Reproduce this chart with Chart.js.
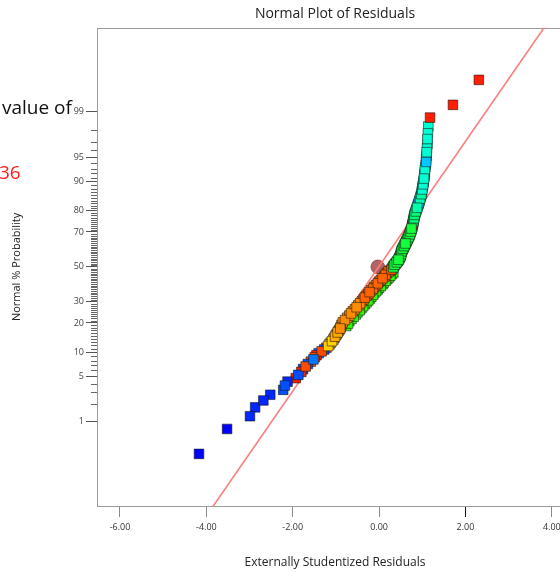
<!DOCTYPE html>
<html>
<head>
<meta charset="utf-8">
<script src="https://cdn.jsdelivr.net/npm/chart.js@4.4.1/dist/chart.umd.min.js"></script>
<style>
  html, body { margin: 0; padding: 0; background: #fff; overflow: hidden; }
  #wrap { position: relative; width: 560px; height: 573px; overflow: hidden; }
  #chart { position: absolute; left: 0; top: 0; }
  .note { position: absolute; font-family: 'Open Sans', sans-serif; white-space: nowrap; line-height: 1; }
</style>
</head>
<body>
<div id="wrap">
  <canvas id="chart" width="670" height="573"></canvas>
  <div class="note" style="left:2px;top:98px;font-size:19px;color:#111">value of</div>
  <div class="note" style="left:-1px;top:163px;font-size:19px;color:#ff1a1a">36</div>
</div>
<script>
// residuals, sorted by rank
const residuals = [
  -4.17,-3.52,-2.99,-2.87,-2.68,-2.52,-2.22,-2.18,-2.12,-1.93,
  -1.87,-1.80,-1.76,-1.70,-1.65,-1.58,-1.52,-1.49,-1.45,-1.40,
  -1.33,-1.27,-1.22,-1.18,-1.15,-1.12,-1.09,-1.06,-1.04,-1.02,
  -1.00,-0.98,-0.96,-0.94,-0.92,-0.90,-0.89,-0.76,-0.87,-0.72,
  -0.84,-0.69,-0.79,-0.64,-0.74,-0.59,-0.69,-0.54,-0.65,-0.50,
  -0.61,-0.45,-0.56,-0.41,-0.52,-0.37,-0.48,-0.33,-0.44,-0.29,
  -0.40,-0.25,-0.36,-0.21,-0.33,-0.18,-0.29,-0.14,-0.25,-0.11,
  -0.22,-0.07,-0.18,-0.03,-0.14,0.00,-0.11,0.04,-0.07,0.08,
  -0.03,0.11,0.00,0.15,0.04,0.19,0.08,0.23,0.12,0.26,
  0.15,0.30,0.18,0.33,0.22,0.26,0.28,0.30,0.31,0.33,
  0.33,0.35,0.36,0.38,0.39,0.41,0.42,0.44,0.45,0.46,
  0.47,0.48,0.49,0.50,0.50,0.51,0.51,0.52,0.52,0.53,
  0.54,0.55,0.56,0.57,0.58,0.59,0.60,0.61,0.62,0.63,
  0.64,0.65,0.66,0.67,0.68,0.69,0.70,0.71,0.72,0.72,
  0.73,0.74,0.75,0.75,0.76,0.77,0.77,0.78,0.78,0.79,
  0.79,0.80,0.80,0.81,0.81,0.82,0.82,0.83,0.84,0.85,
  0.86,0.87,0.88,0.89,0.90,0.91,0.92,0.93,0.94,0.95,
  0.96,0.97,0.98,0.99,0.99,1.00,1.00,1.01,1.02,1.03,
  1.03,1.04,1.05,1.05,1.06,1.06,1.07,1.08,1.09,1.09,
  1.10,1.10,1.11,1.12,1.12,1.13,1.14,1.18,1.71,2.31
];

// normal % probability of each point
const probabilities = [
  0.25,0.75,1.25,1.75,2.25,2.75,3.25,3.75,4.25,4.75,5.25,5.75,6.25,6.75,7.25,7.75,8.25,8.75,9.25,9.75,
  10.25,10.75,11.25,11.75,12.25,12.75,13.25,13.75,14.25,14.75,15.25,15.75,16.25,16.75,17.25,17.75,18.25,18.75,19.25,19.75,
  20.25,20.75,21.25,21.75,22.25,22.75,23.25,23.75,24.25,24.75,25.25,25.75,26.25,26.75,27.25,27.75,28.25,28.75,29.25,29.75,
  30.25,30.75,31.25,31.75,32.25,32.75,33.25,33.75,34.25,34.75,35.25,35.75,36.25,36.75,37.25,37.75,38.25,38.75,39.25,39.75,
  40.25,40.75,41.25,41.75,42.25,42.75,43.25,43.75,44.25,44.75,45.25,45.75,46.25,46.75,47.25,47.75,48.25,48.75,49.25,49.75,
  50.25,50.75,51.25,51.75,52.25,52.75,53.25,53.75,54.25,54.75,55.25,55.75,56.25,56.75,57.25,57.75,58.25,58.75,59.25,59.75,
  60.25,60.75,61.25,61.75,62.25,62.75,63.25,63.75,64.25,64.75,65.25,65.75,66.25,66.75,67.25,67.75,68.25,68.75,69.25,69.75,
  70.25,70.75,71.25,71.75,72.25,72.75,73.25,73.75,74.25,74.75,75.25,75.75,76.25,76.75,77.25,77.75,78.25,78.75,79.25,79.75,
  80.25,80.75,81.25,81.75,82.25,82.75,83.25,83.75,84.25,84.75,85.25,85.75,86.25,86.75,87.25,87.75,88.25,88.75,89.25,89.75,
  90.25,90.75,91.25,91.75,92.25,92.75,93.25,93.75,94.25,94.75,95.25,95.75,96.25,96.75,97.25,97.75,98.25,98.75,99.25,99.75
];

// colour group of each point (g = drawn underneath)
const pointCodes = (
  'B1 B1 B2 B2 B2 B2 B3 B3 B2 R ' +
  'B3 R B3 Q B3 Q B4 Q R B4 ' +
  'Q B3 Q Y A Y Y A Y A ' +
  'Y A A O A O O g O g ' +
  'O g O g O g O g O g ' +
  'O g O g O g O g O g ' +
  'O g P g P g P g P g ' +
  'P g P g P g P g P g ' +
  'P g P g P g P g P g ' +
  'P g P g P G Q G G G ' +
  'G G G Q G G G G G G ' +
  'Q G G G G G G Q G G ' +
  'G G G G G G G G G Q ' +
  'G G G G G G G G G G ' +
  'G G G G G S S R S S ' +
  'S S S S S S S S S S ' +
  'T T T T T T C T T T ' +
  'T T T T T U U U U U ' +
  'U U U U U U U U C U ' +
  'U U U U U U U R R R'
).split(' ');

const fitLineX = [-4.5, 4.5];
const fitLinePct = [0.00129, 99.99882];
const centerX = [-0.03];
const centerPct = [50];

const xMin = -6.532, xMax = 4.49;
const xTicks = [-6, -4, -2, 0, 2, 4];
const yAxisPct = [0.0166, 99.9834];
const yTickPct = [1, 5, 10, 20, 30, 50, 70, 80, 90, 95, 99];

const palette = {
  B1: '#0000ff', B2: '#0028ff', B3: '#0050ff', B4: '#0078ff',
  R: '#ff1e00', Q: '#ff4b00', Y: '#ffcf00', A: '#ffaa00',
  O: '#ff8c00', P: '#ff6400', g: '#2cff00', G: '#14ff3c',
  S: '#00ff78', T: '#00ffaa', U: '#00ffd2', C: '#00c8ff'
};

// inverse normal cdf (Acklam)
function probit(p) {
  const a = [-39.69683028665376, 220.9460984245205, -275.9285104469687, 138.3577518672690, -30.66479806614716, 2.506628277459239];
  const b = [-54.47609879822406, 161.5858368580409, -155.6989798598866, 66.80131188771972, -13.28068155288572];
  const c = [-0.007784894002430293, -0.3223964580411365, -2.400758277161838, -2.549732539343734, 4.374664141464968, 2.938163982698783];
  const d = [0.007784695709041462, 0.3224671290700398, 2.445134137142996, 3.754408661907416];
  const pl = 0.02425;
  let q, r;
  if (p < pl) {
    q = Math.sqrt(-2 * Math.log(p));
    return (((((c[0]*q+c[1])*q+c[2])*q+c[3])*q+c[4])*q+c[5]) / ((((d[0]*q+d[1])*q+d[2])*q+d[3])*q+1);
  }
  if (p > 1 - pl) {
    q = Math.sqrt(-2 * Math.log(1 - p));
    return -(((((c[0]*q+c[1])*q+c[2])*q+c[3])*q+c[4])*q+c[5]) / ((((d[0]*q+d[1])*q+d[2])*q+d[3])*q+1);
  }
  q = p - 0.5; r = q * q;
  return (((((a[0]*r+a[1])*r+a[2])*r+a[3])*r+a[4])*r+a[5])*q / (((((b[0]*r+b[1])*r+b[2])*r+b[3])*r+b[4])*r+1);
}
const pz = pct => probit(pct / 100);

// points are drawn in a scrambled (run-like) order, not by rank
const n = residuals.length;
const topPts = [], topCols = [], underPts = [], underCols = [];
for (let k = 0; k < n; k++) {
  const i = (k * 73) % n;
  const pt = { x: residuals[i], y: pz(probabilities[i]) };
  if (pointCodes[i] === 'g') { underPts.push(pt); underCols.push(palette.g); }
  else { topPts.push(pt); topCols.push(palette[pointCodes[i]]); }
}

const yMinor = [];
for (let p = 2; p <= 98; p++) if (!yTickPct.includes(p)) yMinor.push(p);

const FONT = "'Open Sans', sans-serif";
Chart.defaults.font.family = FONT;

const frame = {
  id: 'frame',
  beforeDatasetsDraw(chart) {
    const { ctx, chartArea: a, scales: { y } } = chart;
    ctx.save();
    ctx.lineWidth = 1;
    ctx.strokeStyle = '#9c9c9c';
    ctx.strokeRect(Math.round(a.left) + 0.5, Math.round(a.top) + 0.5, Math.round(a.right - a.left), Math.round(a.bottom - a.top));
    ctx.strokeStyle = '#666';
    ctx.beginPath();
    yMinor.forEach(p => {
      const py = Math.round(y.getPixelForValue(pz(p))) + 0.5;
      ctx.moveTo(a.left - 6, py);
      ctx.lineTo(a.left, py);
    });
    ctx.stroke();
    ctx.restore();
  }
};

const squareStyle = {
  type: 'scatter',
  pointStyle: 'rect',
  pointRadius: 6.8,
  pointHoverRadius: 6.8,
  pointBorderColor: 'rgba(20,20,20,0.7)',
  pointBorderWidth: 0.8
};

new Chart(document.getElementById('chart'), {
  type: 'scatter',
  data: {
    datasets: [
      Object.assign({ data: topPts, pointBackgroundColor: topCols, order: 1 }, squareStyle),
      Object.assign({ data: underPts, pointBackgroundColor: underCols, order: 2 }, squareStyle),
      {
        type: 'line',
        data: fitLineX.map((x, i) => ({ x, y: pz(fitLinePct[i]) })),
        borderColor: '#ff7c7c',
        borderWidth: 1.6,
        pointRadius: 0,
        order: 3
      },
      {
        type: 'scatter',
        data: centerX.map((x, i) => ({ x, y: pz(centerPct[i]) })),
        pointStyle: 'circle',
        pointRadius: 6.8,
        pointBackgroundColor: '#b46464',
        pointBorderColor: '#945050',
        pointBorderWidth: 1,
        order: 4
      }
    ]
  },
  options: {
    responsive: false,
    animation: false,
    devicePixelRatio: 1,
    layout: { padding: 0 },
    plugins: {
      legend: { display: false },
      tooltip: { enabled: false },
      title: {
        display: true,
        text: 'Normal Plot of Residuals',
        font: { family: FONT, size: 14, weight: 'normal' },
        color: '#222',
        padding: { top: 6, bottom: 5 }
      }
    },
    scales: {
      x: {
        type: 'linear',
        min: xMin, max: xMax,
        bounds: 'data',
        afterBuildTicks: s => { s.ticks = xTicks.map(v => ({ value: v })); },
        afterFit: s => { s.height = 67; },
        grid: {
          drawOnChartArea: false,
          tickLength: 11,
          tickColor: c => (c.tick && c.tick.value === 2 ? '#111' : '#8a8a8a')
        },
        border: { display: false },
        ticks: {
          callback: v => v.toFixed(2),
          font: { size: 9 }, color: '#333',
          padding: 5, maxRotation: 0, autoSkip: false
        },
        title: {
          display: true,
          text: 'Externally Studentized Residuals',
          font: { size: 12 }, color: '#222',
          padding: { top: 0, bottom: 3 }
        }
      },
      y: {
        type: 'linear',
        min: pz(yAxisPct[0]), max: pz(yAxisPct[1]),
        bounds: 'data',
        afterBuildTicks: s => { s.ticks = yTickPct.map(p => ({ value: pz(p) })); },
        afterFit: s => { s.width = 97; },
        grid: { drawOnChartArea: false, tickLength: 11, tickColor: '#555' },
        border: { display: false },
        ticks: {
          callback: (v, i) => String(yTickPct[i]),
          font: { size: 9 }, color: '#444',
          padding: 2, autoSkip: false
        },
        title: {
          display: true,
          text: 'Normal % Probability',
          font: { size: 11 }, color: '#222',
          padding: { top: 10, bottom: 0 }
        }
      },
      y2: {
        type: 'linear',
        position: 'right',
        display: true,
        grid: { display: false },
        border: { display: false },
        ticks: { display: false },
        afterFit: s => { s.width = 97; }
      }
    }
  },
  plugins: [frame]
});
</script>
</body>
</html>
